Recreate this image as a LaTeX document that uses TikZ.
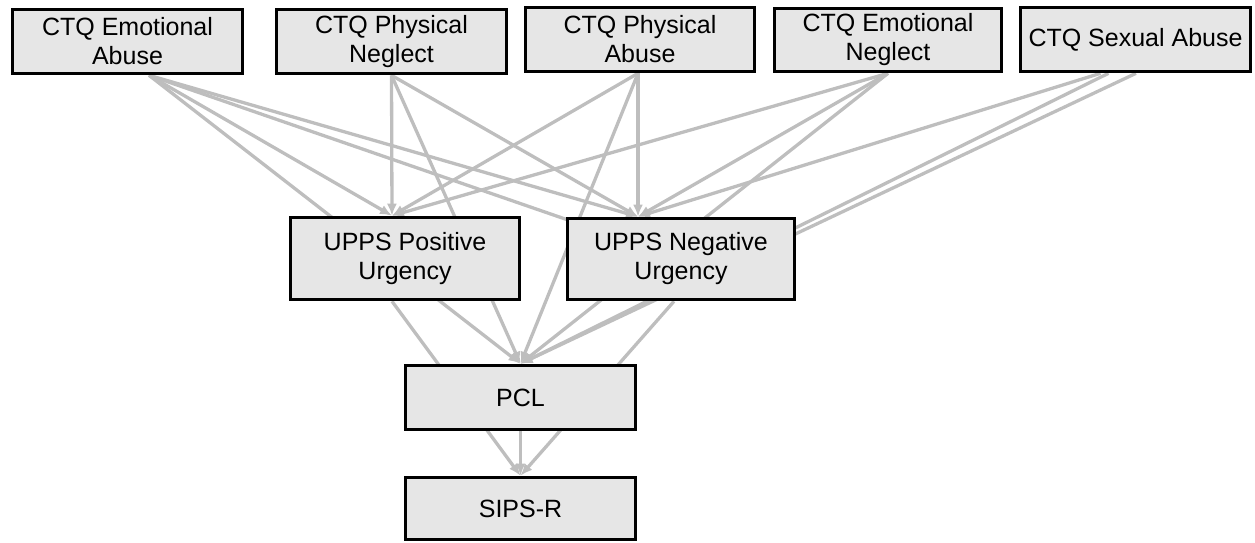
\documentclass[tikz,border=0pt]{standalone}
\usepackage{fontspec}
\setmainfont{Liberation Sans}
\usetikzlibrary{arrows.meta,backgrounds,calc}
\definecolor{edgegray}{RGB}{190,190,190}
\definecolor{boxfill}{RGB}{230,230,230}
\begin{document}
\begin{tikzpicture}[x=1pt,y=-1pt,
  box/.style={draw=black,line width=3.6pt,fill=boxfill,align=center,
    font=\fontsize{25}{29}\selectfont,inner sep=0pt},
  edge/.style={draw=edgegray,line width=3.3pt},
  arr/.style={edge,-{Latex[length=12pt,width=10pt]}}]
\useasboundingbox (0,0) rectangle (1255,542);
% nodes
\node[box,minimum width=230pt,minimum height=64pt] (EA) at (127.5,41.5) {CTQ Emotional\\Abuse};
\node[box,minimum width=230pt,minimum height=64pt] (PN) at (391.5,41.5) {CTQ Physical\\Neglect};
\node[box,minimum width=229pt,minimum height=64pt] (PA) at (640,39.5) {CTQ Physical\\Abuse};
\node[box,minimum width=227pt,minimum height=63pt] (EN) at (888,40) {CTQ Emotional\\Neglect};
\node[box,minimum width=230pt,minimum height=64pt] (SA) at (1135.5,39.5) {CTQ Sexual Abuse};
\node[box,minimum width=229pt,minimum height=82pt] (UP) at (405,258.5) {UPPS Positive\\Urgency};
\node[box,minimum width=227pt,minimum height=81pt] (UN) at (681,259) {UPPS Negative\\Urgency};
\node[box,minimum width=230pt,minimum height=64pt] (PCL) at (520.5,397.5) {PCL};
\node[box,minimum width=230pt,minimum height=62pt] (SIPS) at (520.5,508.5) {SIPS-R};
% anchor points
\coordinate (EAs) at ($(EA.south)+(21.5,0)$);
\coordinate (PNs) at (PN.south);
\coordinate (PAs) at ($(PA.south)+(-2,0)$);
\coordinate (ENs) at (EN.south);
\coordinate (SAs1) at ($(SA.south)+(-35,0)$);
\coordinate (SAs2) at ($(SA.south)+(-27,0)$);
\coordinate (SAs3) at ($(SA.south)+(0.5,0)$);
\coordinate (UPt) at ($(UP.north)+(-13,0)$);
\coordinate (UNt) at ($(UN.north)+(-43,0)$);
\coordinate (UPb) at ($(UP.south)+(-13,0)$);
\coordinate (UNb) at ($(UN.south)+(-7,0)$);
\begin{scope}[on background layer]
  % CTQ Emotional Abuse
  \draw[arr] (EAs) -- (UPt);
  \draw[arr] (EAs) -- (PCL.north);
  \draw[arr] (EAs) -- (UNt);
  \draw[edge] (EAs) -- (UN.center);
  % CTQ Physical Neglect
  \draw[arr] (PNs) -- (UPt);
  \draw[arr] (PNs) -- (PCL.north);
  \draw[arr] (PNs) -- (UNt);
  % CTQ Physical Abuse
  \draw[arr] (PAs) -- (UPt);
  \draw[arr] (PAs) -- (UNt);
  \draw[arr] (PAs) -- (PCL.north);
  % CTQ Emotional Neglect
  \draw[arr] (ENs) -- (UPt);
  \draw[arr] (ENs) -- (UNt);
  \draw[arr] (ENs) -- (PCL.north);
  % CTQ Sexual Abuse
  \draw[arr] (SAs1) -- (UNt);
  \draw[arr] (SAs2) -- (PCL.north);
  \draw[arr] (SAs3) -- (PCL.north);
  % mediators
  \draw[arr] (UPb) -- (SIPS.north);
  \draw[arr] (UNb) -- (SIPS.north);
  \draw[arr] (PCL.south) -- (SIPS.north);
\end{scope}
\end{tikzpicture}
\end{document}
